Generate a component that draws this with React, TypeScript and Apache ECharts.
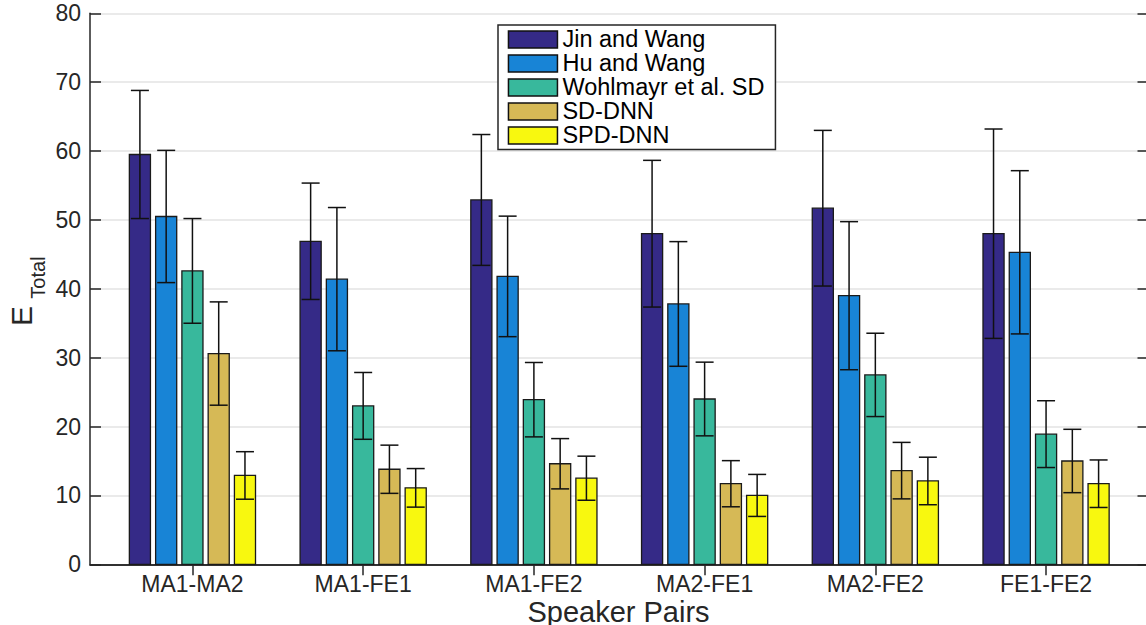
import React, { useEffect, useRef } from "react";
import * as echarts from "echarts";

const categories = ["MA1-MA2", "MA1-FE1", "MA1-FE2", "MA2-FE1", "MA2-FE2", "FE1-FE2"];
const seriesNames = ["Jin and Wang", "Hu and Wang", "Wohlmayr et al. SD", "SD-DNN", "SPD-DNN"];
const seriesColors = ["#352a87", "#1884d6", "#38b89c", "#d6b956", "#f8f80f"];

const jinMean = [59.5, 46.9, 52.9, 48.0, 51.7, 48.0];
const jinStd = [9.3, 8.45, 9.5, 10.65, 11.3, 15.2];
const huMean = [50.5, 41.4, 41.8, 37.8, 39.0, 45.3];
const huStd = [9.6, 10.4, 8.75, 9.05, 10.75, 11.85];
const wohlMean = [42.6, 23.0, 23.9, 24.0, 27.5, 18.9];
const wohlStd = [7.6, 4.85, 5.4, 5.35, 6.05, 4.85];
const sdMean = [30.6, 13.8, 14.6, 11.7, 13.6, 15.0];
const sdStd = [7.5, 3.5, 3.65, 3.35, 4.1, 4.6];
const spdMean = [12.9, 11.1, 12.5, 10.0, 12.1, 11.7];
const spdStd = [3.45, 2.8, 3.2, 3.05, 3.45, 3.45];

const yTicks = [0, 10, 20, 30, 40, 50, 60, 70, 80];

const means = [jinMean, huMean, wohlMean, sdMean, spdMean];
const stds = [jinStd, huStd, wohlStd, sdStd, spdStd];

const FONT = '"Liberation Sans", Arial, Helvetica, sans-serif';
const TXT = "#262626";
const catPositions = categories.map((_, i) => i + 1);

const PITCH = 0.15385;
const BAR_W = 0.1235;
const CAP_HALF = 9;

function makeSeries(si: number) {
  const offset = (si - 2) * PITCH;
  const data = categories.map((_, ci) => [ci + 1, means[si][ci], stds[si][ci]]);
  return {
    type: "custom",
    name: seriesNames[si],
    xAxisIndex: 0,
    yAxisIndex: 0,
    data,
    encode: { x: 0, y: 1 },
    itemStyle: { color: seriesColors[si], borderColor: "#111", borderWidth: 1.3 },
    renderItem: (params: any, api: any) => {
      const cat = api.value(0);
      const m = api.value(1);
      const s = api.value(2);
      const xc = api.coord([cat + offset, 0])[0];
      const y0 = api.coord([cat + offset, 0])[1];
      const yTop = api.coord([cat + offset, m])[1];
      const yHi = api.coord([cat + offset, m + s])[1];
      const yLo = api.coord([cat + offset, m - s])[1];
      const half = api.size([BAR_W, 0])[0] / 2;
      const lineStyle = { stroke: "#111", lineWidth: 1.5 };
      return {
        type: "group",
        children: [
          {
            type: "rect",
            shape: { x: xc - half, y: yTop, width: half * 2, height: y0 - yTop },
            style: { fill: seriesColors[si], stroke: "#1a1a1a", lineWidth: 1.3 },
          },
          { type: "line", shape: { x1: xc, y1: yLo, x2: xc, y2: yHi }, style: lineStyle },
          { type: "line", shape: { x1: xc - CAP_HALF, y1: yHi, x2: xc + CAP_HALF, y2: yHi }, style: lineStyle },
          { type: "line", shape: { x1: xc - CAP_HALF, y1: yLo, x2: xc + CAP_HALF, y2: yLo }, style: lineStyle },
        ],
      };
    },
  };
}

export default function App() {
  const ref = useRef<HTMLDivElement>(null);
  useEffect(() => {
    if (!ref.current) return;
    const chart = echarts.init(ref.current, null, { renderer: "svg" });
    const axisLine = { show: true, lineStyle: { color: TXT, width: 1.5 } };
    const option: any = {
      animation: false,
      backgroundColor: "#ffffff",
      grid: { left: 90, right: 1.5, top: 13.3, bottom: 60.7, containLabel: false },
      xAxis: [
        {
          type: "value",
          position: "bottom",
          min: 0.4,
          max: 6.6,
          axisLine,
          axisTick: { show: true, inside: true, length: 11, customValues: catPositions, lineStyle: { color: TXT, width: 1.5 } },
          axisLabel: {
            show: true,
            customValues: catPositions,
            formatter: (v: number) => categories[Math.round(v) - 1] ?? "",
            color: TXT,
            fontSize: 23,
            fontFamily: FONT,
            margin: 8,
          },
          splitLine: { show: false },
        },
        {
          type: "value",
          position: "top",
          min: 0.4,
          max: 6.6,
          axisLine,
          axisTick: { show: true, inside: true, length: 11, customValues: catPositions, lineStyle: { color: TXT, width: 1.5 } },
          axisLabel: { show: false },
          splitLine: { show: false },
        },
      ],
      yAxis: [
        {
          type: "value",
          position: "left",
          min: 0,
          max: 80,
          interval: 10,
          axisLine,
          axisTick: { show: true, inside: true, length: 11, lineStyle: { color: TXT, width: 1.5 } },
          axisLabel: {
            color: TXT,
            fontSize: 23,
            fontFamily: FONT,
            margin: 9,
            formatter: (v: number) => (yTicks.includes(v) ? String(v) : ""),
          },
          splitLine: { show: true, lineStyle: { color: "#e3e3e3", width: 1.5 } },
        },
        {
          type: "value",
          position: "right",
          min: 0,
          max: 80,
          interval: 10,
          axisLine,
          axisTick: { show: true, inside: true, length: 11, lineStyle: { color: TXT, width: 1.5 } },
          axisLabel: { show: false },
          splitLine: { show: false },
        },
      ],
      legend: {
        show: true,
        orient: "vertical",
        left: 498,
        top: 25,
        padding: [2.4, 11, 2.2, 9.7],
        itemWidth: 49,
        itemHeight: 17,
        itemGap: 0,
        borderColor: TXT,
        borderWidth: 1.5,
        backgroundColor: "#ffffff",
        selectedMode: false,
        textStyle: { color: "#000", fontSize: 23.5, fontFamily: FONT },
        data: seriesNames.map((n, i) => ({
          name: n,
          icon: "rect",
          itemStyle: { color: seriesColors[i], borderColor: "#111", borderWidth: 1.5 },
        })),
      },
      graphic: [
        {
          type: "text",
          x: 618.5,
          y: 611.7,
          style: {
            text: "Speaker Pairs",
            font: `29px ${FONT}`,
            fill: TXT,
            textAlign: "center",
            textVerticalAlign: "middle",
            align: "center",
            verticalAlign: "middle",
          },
        },
        {
          type: "text",
          x: 21,
          y: 316,
          rotation: Math.PI / 2,
          style: {
            text: "E",
            font: `30px ${FONT}`,
            fill: TXT,
            textAlign: "center",
            textVerticalAlign: "middle",
            align: "center",
            verticalAlign: "middle",
          },
        },
        {
          type: "text",
          x: 37.5,
          y: 277.5,
          rotation: Math.PI / 2,
          style: {
            text: "Total",
            font: `20px ${FONT}`,
            fill: TXT,
            textAlign: "center",
            textVerticalAlign: "middle",
            align: "center",
            verticalAlign: "middle",
          },
        },
      ],
      series: seriesNames.map((_, i) => makeSeries(i)),
    };
    chart.setOption(option);
    return () => chart.dispose();
  }, []);

  return (
    <div style={{ position: "fixed", left: 0, top: 0, width: 1146, height: 625, overflow: "hidden", background: "#fff" }}>
      <div ref={ref} style={{ width: 1150, height: 625 }} />
    </div>
  );
}
